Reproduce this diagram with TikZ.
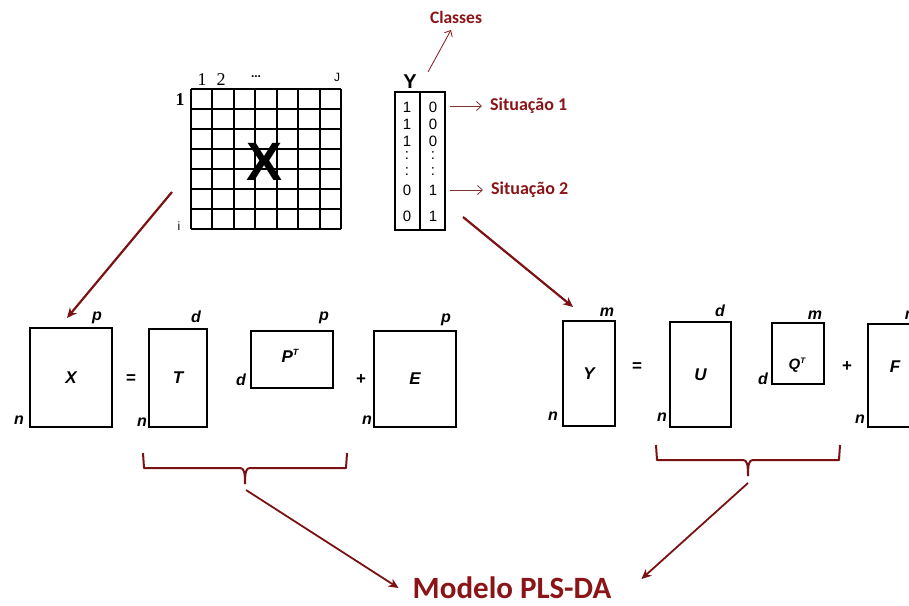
\documentclass[tikz,border=0pt]{standalone}
\usepackage{fontspec}
\setmainfont{Liberation Sans}
\newfontfamily\calib{Carlito}
\newfontfamily\timesf{Liberation Serif}
\usetikzlibrary{arrows.meta}
\definecolor{dred}{HTML}{7A1214}
\definecolor{tred}{HTML}{8A1418}
\begin{document}
\begin{tikzpicture}[x=1pt,y=-1pt,
  mat/.style={draw, line width=1.5pt, inner sep=0pt, outer sep=0pt,
    font=\fontsize{17}{17}\selectfont\bfseries\itshape},
  dim/.style={inner sep=0pt, font=\fontsize{16}{16}\selectfont\bfseries\itshape},
  opsym/.style={inner sep=0pt, font=\fontsize{17}{17}\selectfont\bfseries},
  redtxt/.style={inner sep=0pt, text=tred, font=\calib\bfseries\fontsize{18}{18}\selectfont},
  bigarrow/.style={draw=dred, line width=2.2pt, -{Stealth[length=10pt,width=9pt]}},
  thinarrow/.style={draw=dred!70!gray, line width=0.8pt, -{Straight Barb[length=5pt,width=9pt]}},
  brace/.style={draw=dred, line width=2pt, line join=round},
  gridnum/.style={inner sep=0pt, font=\timesf\fontsize{18}{18}\selectfont},
  digit/.style={inner sep=0pt, font=\fontsize{15}{15}\selectfont}
]
\useasboundingbox (0,0) rectangle (909,605);

% ---- X grid
\foreach \i in {0,...,7} {
  \draw[line width=2pt] ({191+\i*150/7},89) -- ({191+\i*150/7},229);
  \draw[line width=2pt] (191,{89+\i*20}) -- (341,{89+\i*20});
}
\node[inner sep=0pt, font=\fontsize{54}{54}\selectfont\bfseries] (bigX) at (265,162) {X};
\node[gridnum] (c1) at (202,80) {1};
\node[gridnum] (c2) at (221,80) {2};
\node[inner sep=0pt, font=\fontsize{12}{12}\selectfont\bfseries] (cdots) at (256,77) {...};
\node[inner sep=0pt, font=\fontsize{12}{12}\selectfont] (cJ) at (337,77) {J};
\node[inner sep=0pt, font=\timesf\bfseries\fontsize{18}{18}\selectfont] (r1) at (180,100) {1};
\node[inner sep=0pt, font=\fontsize{12}{12}\selectfont] (ri) at (179,226) {i};

% ---- Y table
\node[draw, line width=1.4pt, minimum width=50pt, minimum height=138pt, inner sep=0pt] (Ytab) at (420,161) {};
\draw[line width=1.4pt] (Ytab.north) -- (Ytab.south);
\node[inner sep=0pt, font=\fontsize{20}{20}\selectfont\bfseries] (Yhead) at (410,82) {Y};
\foreach \y/\a/\b [count=\k] in {107/1/0,124/1/0,141/1/0,190/0/1,216/0/1} {
  \node[digit] (da\k) at (407,\y) {\a};
  \node[digit] (db\k) at (433,\y) {\b};
}
\node[digit] (dota1) at (407,156) {:};
\node[digit] (dota2) at (407,172) {:};
\node[digit] (dotb1) at (433,156) {:};
\node[digit] (dotb2) at (433,172) {:};

% ---- annotations
\node[redtxt, font=\calib\bfseries\fontsize{17.5}{17.5}\selectfont] (classes) at (456,17) {Classes};
\coordinate (clsA) at (428,72);
\coordinate (clsB) at (451,30);
\draw[draw=tred, line width=0.8pt, -{Straight Barb[length=5pt,width=9pt]}] (clsA) -- (clsB);

\node[redtxt, anchor=west] (sit1) at (490,106) {Situação 1};
\node[redtxt, anchor=west] (sit2) at (491,190) {Situação 2};
\coordinate (s1a) at (450,106);
\coordinate (s2a) at (450,190);
\draw[thinarrow] (s1a) -- ([xshift=-8pt]sit1.west);
\draw[thinarrow] (s2a) -- ([xshift=-8pt]sit2.west);

% ---- left equation
\node[mat, minimum width=82pt, minimum height=99pt] (Xm) at (71,377.5) {X};
\node[dim] at (97,318) {p};
\node[dim] at (19,420) {n};
\node[opsym] (eq1) at (131,379) {=};
\node[mat, minimum width=58pt, minimum height=98pt] (Tm) at (178,378) {T};
\node[dim] at (196,317) {d};
\node[dim] at (142,422) {n};
\node[mat, minimum width=82pt, minimum height=57pt] (Pm) at (292,359.5) {};
\node[inner sep=0pt, font=\fontsize{17}{17}\selectfont\bfseries\itshape] (Plab) at (290,356) {P\raisebox{0.7ex}{\fontsize{9}{9}\selectfont T}};
\node[dim] at (324,318) {p};
\node[dim] at (241,380) {d};
\node[opsym] (pl1) at (361,380) {+};
\node[mat, minimum width=82pt, minimum height=96pt] (Em) at (415,379) {E};
\node[dim] at (446,320) {p};
\node[dim] at (367,420) {n};

% ---- right equation
\node[mat, minimum width=52pt, minimum height=105pt] (Ym) at (589,373.5) {Y};
\node[dim] at (607,312) {m};
\node[dim] at (553,416) {n};
\node[opsym] (eq2) at (637,367) {=};
\node[mat, minimum width=61pt, minimum height=105pt] (Um) at (700.5,374.5) {U};
\node[dim] at (720,311) {d};
\node[dim] at (662,417) {n};
\node[mat, minimum width=52pt, minimum height=61pt] (Qm) at (798,353.5) {};
\node[inner sep=0pt, font=\fontsize{15}{15}\selectfont\bfseries\itshape] (Qlab) at (797,365) {Q\raisebox{0.7ex}{\fontsize{8}{8}\selectfont T}};
\node[dim] at (815,315) {m};
\node[dim] at (763,379) {d};
\node[opsym] (pl2) at (847,367) {+};
\node[mat, minimum width=62pt, minimum height=103pt] (Fm) at (899,375.5) {};
\node[inner sep=0pt, font=\fontsize{17}{17}\selectfont\bfseries\itshape] (Flab) at (895,367) {F};
\node[dim] at (912,315) {m};
\node[dim] at (860,419) {n};

% ---- braces
\draw[brace] (143,453) -- (144,468) -- (240,468) .. controls (244,468) and (245,472) .. (245,484);
\draw[brace] (245,484) .. controls (245,472) and (246,468) .. (250,468) -- (346,468) -- (347,453);
\draw[brace] (656,445) -- (657,460) -- (743,460) .. controls (747,460) and (748,464) .. (748,476);
\draw[brace] (748,476) .. controls (748,464) and (749,460) .. (753,460) -- (839,460) -- (840,445);
\coordinate (tipL) at (246,490);
\coordinate (tipR) at (748,483);

% ---- result
\node[inner sep=0pt, text=tred, font=\calib\bfseries\fontsize{31}{31}\selectfont] (model) at (512,588) {Modelo PLS-DA};

% ---- arrows
\coordinate (a1s) at (172,192);
\coordinate (a2s) at (463,217);
\draw[bigarrow] (a1s) -- ([xshift=-4pt,yshift=10pt]Xm.north);
\draw[bigarrow] (a2s) -- ([xshift=-16pt,yshift=14pt]Ym.north);
\draw[bigarrow, line width=1.8pt] (tipL) -- ([xshift=-14pt]model.west);
\draw[bigarrow, line width=1.8pt] (tipR) -- ([xshift=30pt,yshift=9pt]model.east);
\end{tikzpicture}
\end{document}
